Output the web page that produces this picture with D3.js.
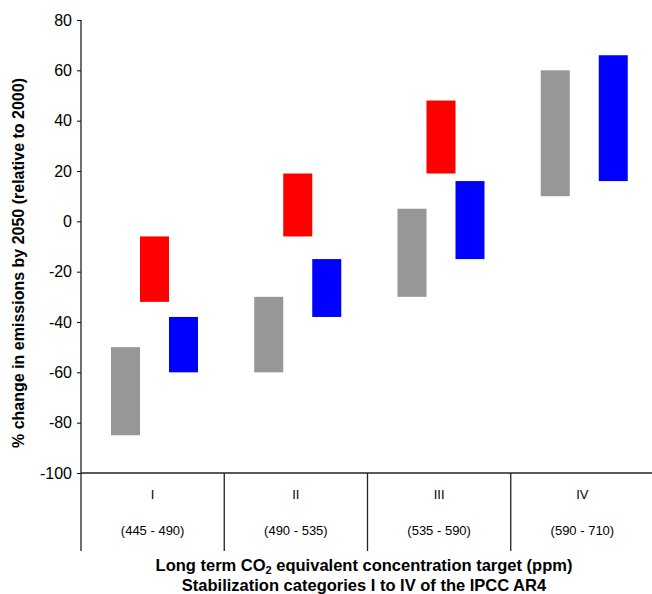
<!DOCTYPE html>
<html>
<head>
<meta charset="utf-8">
<script src="https://cdn.jsdelivr.net/npm/d3@7"></script>
<style>
  body { margin: 0; background: #fff; }
  text { font-family: "Liberation Sans", Arial, sans-serif; }
</style>
</head>
<body>
<div id="chart"></div>
<script>
// stabilization categories and their concentration ranges
var categories = ["I", "II", "III", "IV"];
var ranges = ["(445 - 490)", "(490 - 535)", "(535 - 590)", "(590 - 710)"];
var yTicks = [80, 60, 40, 20, 0, -20, -40, -60, -80, -100];

// each series: [low, high] per category (null = no bar)
var greyBars = [[-85, -50], [-60, -30], [-30, 5], [10, 60]];
var redBars  = [[-32, -6], [-6, 19], [19, 48], null];
var blueBars = [[-60, -38], [-38, -15], [-15, 16], [16, 66]];

var seriesNames = ["grey", "red", "blue"];
var seriesColors = {"grey": "#979797", "red": "#ff0000", "blue": "#0000ff"};
var seriesData = {"grey": greyBars, "red": redBars, "blue": blueBars};

var W = 652, H = 594;
// note: "top" is taken by window.top, so use plot* names
var plotLeft = 81, plotRight = 654, plotTop = 20, plotBottom = 473;

var svg = d3.select("#chart").append("svg")
    .attr("width", W)
    .attr("height", H);

var y = d3.scaleLinear().domain([-100, 80]).range([plotBottom, plotTop]);
var x = d3.scaleBand().domain(categories).range([plotLeft, plotRight]).padding(0);
var xs = d3.scaleBand().domain(seriesNames).range([30, 117]).padding(0);

// flatten into rects
var rects = [];
seriesNames.forEach(function (s) {
    seriesData[s].forEach(function (d, i) {
        if (d) rects.push({cat: categories[i], series: s, lo: d[0], hi: d[1]});
    });
});

svg.selectAll("rect.bar")
    .data(rects)
    .enter().append("rect")
    .attr("class", "bar")
    .attr("x", function (d) { return x(d.cat) + xs(d.series); })
    .attr("width", xs.bandwidth())
    .attr("y", function (d) { return y(d.hi); })
    .attr("height", function (d) { return y(d.lo) - y(d.hi); })
    .style("fill", function (d) { return seriesColors[d.series]; });

// y axis - plain hyphen for negatives, like the original
var yAxis = d3.axisLeft(y).tickValues(yTicks).tickSize(4).tickPadding(5)
    .tickFormat(function (d) { return String(d); });
var gy = svg.append("g").attr("transform", "translate(" + plotLeft + ",0)").call(yAxis);
gy.select(".domain").remove();
gy.selectAll(".tick line").attr("stroke", "#000");
gy.selectAll(".tick text")
    .attr("font-size", "16px")
    .attr("font-family", "Liberation Sans, Arial, sans-serif")
    .attr("fill", "#000");

var lineBottom = 551;
// axis lines
svg.append("line")
    .attr("x1", plotLeft).attr("x2", plotLeft)
    .attr("y1", plotTop).attr("y2", lineBottom)
    .attr("stroke", "#222").attr("stroke-width", 1.3);
svg.append("line")
    .attr("x1", plotLeft).attr("x2", W)
    .attr("y1", y(-100)).attr("y2", y(-100))
    .attr("stroke", "#222").attr("stroke-width", 1.3);

// category dividers
svg.selectAll("line.div")
    .data(categories.slice(1))
    .enter().append("line")
    .attr("class", "div")
    .attr("x1", function (d) { return x(d); })
    .attr("x2", function (d) { return x(d); })
    .attr("y1", y(-100)).attr("y2", lineBottom)
    .attr("stroke", "#222").attr("stroke-width", 1.3);

// category labels
svg.selectAll("text.cat")
    .data(categories)
    .enter().append("text")
    .attr("class", "cat")
    .attr("x", function (d) { return x(d) + x.bandwidth() / 2; })
    .attr("y", 499)
    .attr("text-anchor", "middle")
    .attr("font-size", "13px")
    .text(function (d) { return d; });

svg.selectAll("text.rng")
    .data(ranges)
    .enter().append("text")
    .attr("class", "rng")
    .attr("x", function (d, i) { return x(categories[i]) + x.bandwidth() / 2; })
    .attr("y", 535)
    .attr("text-anchor", "middle")
    .attr("font-size", "13px")
    .text(function (d) { return d; });

// y title
svg.append("text")
    .attr("transform", "translate(24,263) rotate(-90)")
    .attr("text-anchor", "middle")
    .attr("font-size", "16px")
    .attr("font-weight", "bold")
    .text("% change in emissions by 2050 (relative to 2000)");

// x title, two lines
var t1 = svg.append("text")
    .attr("x", 364).attr("y", 571)
    .attr("text-anchor", "middle")
    .attr("font-size", "16.5px")
    .attr("font-weight", "bold");
t1.append("tspan").text("Long term CO");
t1.append("tspan").attr("font-size", "11px").attr("dy", 3).text("2");
t1.append("tspan").attr("dy", -3).text(" equivalent concentration target (ppm)");

svg.append("text")
    .attr("x", 364).attr("y", 591)
    .attr("text-anchor", "middle")
    .attr("font-size", "16.5px")
    .attr("font-weight", "bold")
    .text("Stabilization categories I to IV of the IPCC AR4");
</script>
</body>
</html>
